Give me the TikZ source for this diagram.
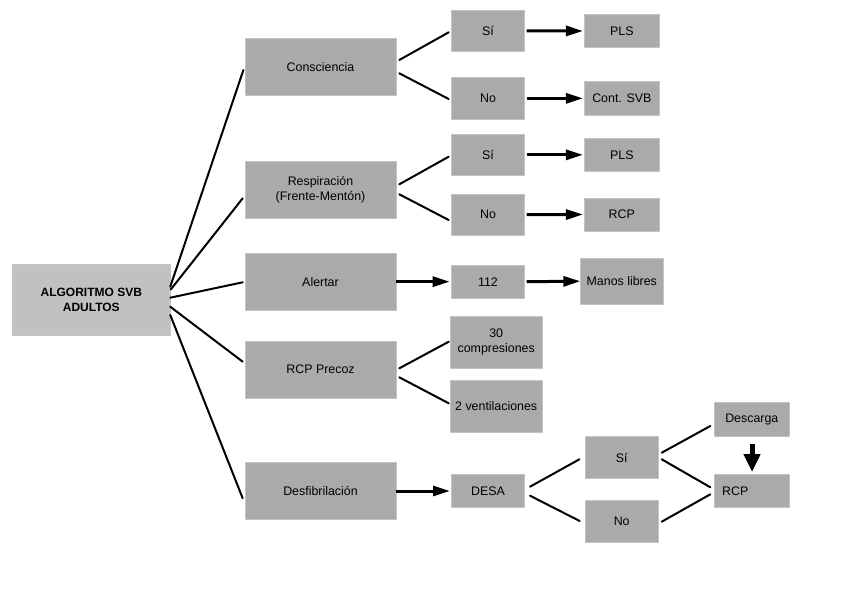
\documentclass[tikz,border=0pt]{standalone}
\usepackage{fontspec}
\setmainfont{Liberation Sans}
\usetikzlibrary{arrows.meta,calc}
\definecolor{boxgray}{HTML}{AAAAAA}
\definecolor{rootgray}{HTML}{C1C1C1}
\definecolor{edgegray}{HTML}{C4C4C4}
\begin{document}
\begin{tikzpicture}[x=1pt,y=-1pt,
  box/.style={rectangle, fill=boxgray, draw=edgegray, line width=0.6pt, inner sep=2pt, align=center, text=black, font=\fontsize{12.4}{15}\selectfont},
  lvone/.style={box, minimum width=151pt, minimum height=57pt},
  lvtwo/.style={box, minimum width=73.4pt},
  lvthree/.style={box, minimum width=74.3pt},
  ln/.style={line width=2pt, line cap=round},
  arr/.style={line width=3pt, -{Triangle[length=17pt,width=10pt]}},
  bigarr/.style={line width=5pt, -{Triangle[length=18pt,width=16pt]}}
]
\useasboundingbox (0,0) rectangle (848,599);

% root
\node[box, fill=rootgray, minimum width=157.3pt, minimum height=71pt, font=\fontsize{12}{15}\selectfont\bfseries] (root) at (91.3,299.5) {ALGORITMO SVB\\ADULTOS};

% level 1
\node[lvone] (cons) at (320.5,67.3) {Consciencia};
\node[lvone] (resp) at (320.5,190) {Respiración\\(Frente-Mentón)};
\node[lvone] (alert) at (320.5,281.7) {Alertar};
\node[lvone] (rcpp) at (320.5,369.3) {RCP Precoz};
\node[lvone] (desf) at (320.5,491) {Desfibrilación};

% level 2
\node[lvtwo, minimum height=41.5pt] (si1) at (488,30.8) {Sí};
\node[lvtwo, minimum height=41.3pt] (no1) at (488,98.3) {No};
\node[lvtwo, minimum height=41pt] (si2) at (488,154.8) {Sí};
\node[lvtwo, minimum height=41.3pt] (no2) at (488,214.7) {No};
\node[lvtwo, minimum height=33.3pt] (n112) at (488,281.7) {112};
\node[box, minimum width=91.7pt, minimum height=52.3pt] (c30) at (496.2,342.2) {30\\compresiones};
\node[box, minimum width=91.7pt, minimum height=52pt] (v2) at (496.2,406.3) {2 ventilaciones};
\node[lvtwo, minimum height=33.4pt] (desa) at (488,491) {DESA};

% level 3
\node[lvthree, minimum height=33.4pt] (pls1) at (621.8,31) {PLS};
\node[lvthree, minimum height=34pt] (cont) at (621.8,98.3) {Cont. SVB};
\node[lvthree, minimum height=33.7pt] (pls2) at (621.8,154.8) {PLS};
\node[lvthree, minimum height=33pt] (rcp1) at (621.8,214.5) {RCP};
\node[box, minimum width=82.3pt, minimum height=46.3pt] (manos) at (621.8,281.2) {Manos libres};
\node[lvtwo, minimum height=42pt] (dsi) at (621.7,457.7) {Sí};
\node[lvtwo, minimum height=42pt] (dno) at (621.7,521.7) {No};
\node[lvthree, minimum height=33.3pt] (desc) at (751.8,419.3) {Descarga};
\node[lvthree, minimum height=33.4pt, inner xsep=7.5pt, text width=59.3pt, align=left] (rcp2) at (751.8,491) {RCP};

% root connectors
\draw[ln] ($(root.east)+(0,-12.8)$) -- ($(cons.west)+(-1.3,2.7)$);
\draw[ln] ($(root.east)+(0.5,-10)$) -- ($(resp.west)+(-2,8.3)$);
\draw[ln] ($(root.east)+(0,-1.8)$) -- ($(alert.west)+(-2,0.6)$);
\draw[ln] ($(root.east)+(0,7.2)$) -- ($(rcpp.west)+(-2,-7.6)$);
\draw[ln] ($(root.east)+(0,15.5)$) -- ($(desf.west)+(-2,7.3)$);

% branches
\draw[ln] ($(cons.east)+(3,-7.3)$) -- ($(si1.west)+(-2.3,1.5)$);
\draw[ln] ($(cons.east)+(3,6)$) -- ($(no1.west)+(-2.3,0.7)$);
\draw[ln] ($(resp.east)+(3,-5.7)$) -- ($(si2.west)+(-2.3,1.9)$);
\draw[ln] ($(resp.east)+(3,4.3)$) -- ($(no2.west)+(-2.3,5.3)$);
\draw[ln] ($(rcpp.east)+(3,-1)$) -- ($(c30.west)+(-1.3,-0.5)$);
\draw[ln] ($(rcpp.east)+(3,8)$) -- ($(v2.west)+(-1.3,-3)$);
\draw[ln] ($(desa.east)+(5,-4.3)$) -- ($(dsi.west)+(-5.3,1.6)$);
\draw[ln] ($(desa.east)+(5,4.7)$) -- ($(dno.west)+(-5,-0.7)$);
\draw[ln] ($(dsi.east)+(3,-5)$) -- ($(desc.west)+(-4,6.7)$);
\draw[ln] ($(dsi.east)+(3,1.6)$) -- ($(rcp2.west)+(-4,-3.7)$);
\draw[ln] ($(dno.east)+(3,0)$) -- ($(rcp2.west)+(-4,3.3)$);

% arrows
\draw[arr] ($(si1.east)+(1.6,0)$) -- ($(pls1.west)+(-1.4,0)$);
\draw[arr] ($(no1.east)+(1.6,0)$) -- ($(cont.west)+(-1.4,0)$);
\draw[arr] ($(si2.east)+(1.6,0)$) -- ($(pls2.west)+(-1.4,0)$);
\draw[arr] ($(no2.east)+(1.6,0)$) -- ($(rcp1.west)+(-1.4,0)$);
\draw[arr] (alert.east) -- ($(n112.west)+(-1.3,0)$);
\draw[arr] ($(n112.east)+(1.6,0)$) -- (manos.west);
\draw[arr] (desf.east) -- ($(desa.west)+(-1,0)$);
\draw[bigarr] ($(desc.south)+(0.2,7.3)$) -- ($(rcp2.north)+(0.2,-2)$);
\end{tikzpicture}
\end{document}
